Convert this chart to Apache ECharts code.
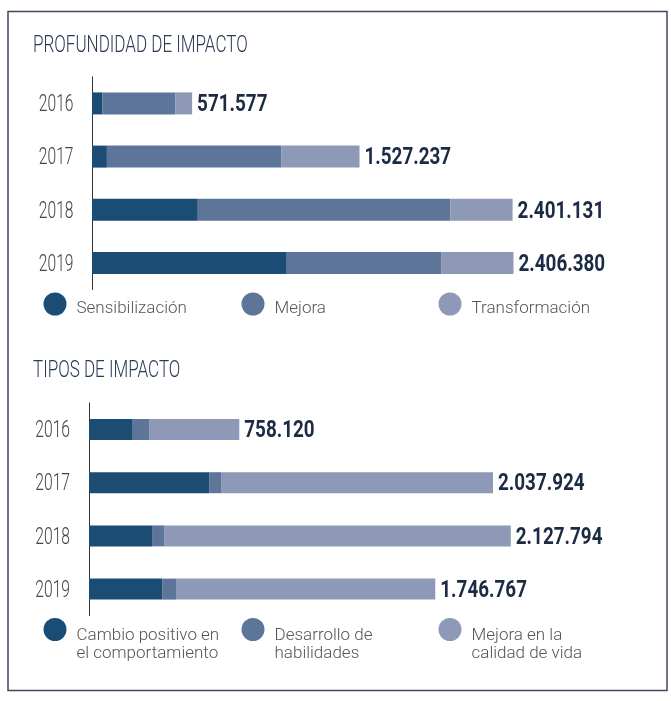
<!DOCTYPE html>
<html>
<head>
<meta charset="utf-8">
<style>
  html, body { margin: 0; padding: 0; background: #fff; }
  #chart { width: 671px; height: 701px; }
</style>
<script src="https://cdn.jsdelivr.net/npm/echarts@6/dist/echarts.min.js"></script>
</head>
<body>
<div id="chart"></div>
<script>
var years = ['2016', '2017', '2018', '2019'];

// profundidad de impacto
var sensibilizacion = [60000, 85000, 604000, 1112000];
var mejora = [415000, 995000, 1443000, 884000];
var transformacion = [96577, 447237, 354131, 410380];
var totalProfundidad = ['571.577', '1.527.237', '2.401.131', '2.406.380'];

// tipos de impacto
var cambio = [217000, 606000, 318000, 369000];
var desarrollo = [86000, 60000, 61000, 70000];
var calidad = [455120, 1371924, 1748794, 1307767];
var totalTipos = ['758.120', '2.037.924', '2.127.794', '1.746.767'];

var colors = ['#1b4c74', '#5d7599', '#8d99b6'];

var chart = echarts.init(document.getElementById('chart'));

function yAxis(grid, offset) {
    return {
        type: 'category',
        gridIndex: grid,
        data: years,
        inverse: true,
        offset: offset,
        axisLine: { show: true, lineStyle: { color: '#333', width: 1 } },
        axisTick: { show: false },
        axisLabel: { show: false }
    }
}

var legendNames = {
    'Cambio positivo en el comportamiento': ['Cambio positivo en', 'el comportamiento'],
    'Desarrollo de habilidades': ['Desarrollo de', 'habilidades'],
    'Mejora en la calidad de vida': ['Mejora en la', 'calidad de vida']
};

function legend(name, left, top, twoLines) {
    return {
        data: [name],
        left: left,
        top: top,
        icon: 'circle',
        itemWidth: 23,
        itemHeight: 23,
        selectedMode: false,
        formatter: function (n) {
            var lines = legendNames[n] || [n];
            return '{s| }\n' + lines.map(function (l) { return '{t|' + l + '}'; }).join('\n');
        },
        textStyle: {
            rich: {
                s: { fontSize: 1, lineHeight: twoLines ? 30 : 10 },
                t: {
                    fontFamily: 'Roboto',
                    fontWeight: 300,
                    fontSize: 17,
                    lineHeight: 18,
                    color: '#555',
                    padding: [0, 0, 0, 5]
                }
            }
        }
    }
}

function bar(name, data, color, idx, stack, width) {
    return {
        name: name,
        type: 'bar',
        stack: stack,
        xAxisIndex: idx,
        yAxisIndex: idx,
        barWidth: width,
        data: data,
        itemStyle: { color: color },
        emphasis: { disabled: true }
    }
}

// year on the left of the axis, total on the right of the stacked bar
function labels(parts, totals, idx, axisOffset) {
    var data = years.map(function (y, i) {
        var sum = 0;
        parts.forEach(function (p) { sum += p[i]; });
        return [sum, i];
    });
    return {
        type: 'custom',
        xAxisIndex: idx,
        yAxisIndex: idx,
        data: data,
        silent: true,
        z: 5,
        renderItem: function (params, api) {
            var end = api.coord([api.value(0), api.value(1)]);
            var start = api.coord([0, api.value(1)]);
            return {
                type: 'group',
                children: [
                    {
                        type: 'text',
                        x: start[0] - axisOffset - 11,
                        y: end[1] + 2,
                        scaleX: 0.68,
                        style: {
                            text: years[params.dataIndex],
                            fontFamily: 'Roboto', fontWeight: 300, fontSize: 23,
                            fill: '#444', align: 'right', verticalAlign: 'middle'
                        }
                    },
                    {
                        type: 'text',
                        x: end[0] + 5,
                        y: end[1] + 2,
                        scaleX: 0.82,
                        style: {
                            text: totals[params.dataIndex],
                            fontFamily: 'Roboto', fontWeight: 'bold', fontSize: 23,
                            fill: '#1c2a44', align: 'left', verticalAlign: 'middle'
                        }
                    }
                ]
            }
        }
    }
}

chart.setOption({
    animation: false,
    graphic: [
        {
            type: 'rect',
            shape: { x: 8, y: 11.5, width: 659, height: 679 },
            style: { fill: 'none', stroke: '#3d4a5c', lineWidth: 1.5 }
        },
        {
            type: 'text',
            x: 33, y: 46, scaleX: 0.74,
            style: { text: 'PROFUNDIDAD DE IMPACTO', fontSize: 23, fontFamily: 'Roboto', fontWeight: 300, fill: '#2b3a55', verticalAlign: 'middle' }
        },
        {
            type: 'text',
            x: 33, y: 371, scaleX: 0.74,
            style: { text: 'TIPOS DE IMPACTO', fontSize: 23, fontFamily: 'Roboto', fontWeight: 300, fill: '#2b3a55', verticalAlign: 'middle' }
        }
    ],
    grid: [
        { left: 92, right: 157.5, top: 76.8, height: 212.8 },
        { left: 89, right: 160.2, top: 402.9, height: 212.8 }
    ],
    xAxis: [
        { type: 'value', gridIndex: 0, min: 0, max: 2406380, show: false },
        { type: 'value', gridIndex: 1, min: 0, max: 2127794, show: false }
    ],
    yAxis: [yAxis(0, 7.5), yAxis(1, 8)],
    legend: [
        legend('Sensibilización', 38.5, 287.5, false),
        legend('Mejora', 236.5, 287.5, false),
        legend('Transformación', 433.5, 287.5, false),
        legend('Cambio positivo en el comportamiento', 38.5, 606, true),
        legend('Desarrollo de habilidades', 236.5, 606, true),
        legend('Mejora en la calidad de vida', 433.5, 606, true)
    ],
    series: [
        bar('Sensibilización', sensibilizacion, colors[0], 0, 'p', 22),
        bar('Mejora', mejora, colors[1], 0, 'p', 22),
        bar('Transformación', transformacion, colors[2], 0, 'p', 22),
        labels([sensibilizacion, mejora, transformacion], totalProfundidad, 0, 7.5),
        bar('Cambio positivo en el comportamiento', cambio, colors[0], 1, 't', 21),
        bar('Desarrollo de habilidades', desarrollo, colors[1], 1, 't', 21),
        bar('Mejora en la calidad de vida', calidad, colors[2], 1, 't', 21),
        labels([cambio, desarrollo, calidad], totalTipos, 1, 8)
    ]
});
</script>
</body>
</html>
